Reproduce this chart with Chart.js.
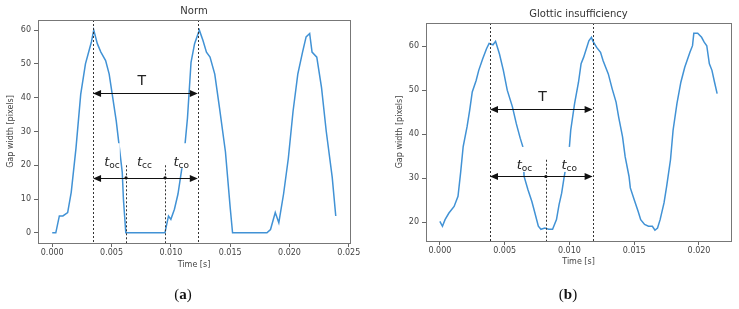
<!DOCTYPE html>
<html>
<head>
<meta charset="utf-8">
<script src="https://cdn.jsdelivr.net/npm/chart.js@4.4.1/dist/chart.umd.min.js"></script>
<style>
body{margin:0;background:#fff;width:739px;height:309px;position:relative;overflow:hidden}
canvas{position:absolute;top:0}
#ca{left:0}
#cb{left:370px}
.cap{position:absolute;top:286px;line-height:17px;font:15px "Liberation Serif","DejaVu Serif",serif;color:#111;transform:translateX(-50%)}
</style>
</head>
<body>
<canvas id="ca" width="370" height="309"></canvas>
<canvas id="cb" width="369" height="309"></canvas>
<div class="cap" style="left:183px">(<b>a</b>)</div>
<div class="cap" style="left:568px">(<b>b</b>)</div>
<script>
// (a) Norm
const timeA = [0,0.0003,0.0006,0.0009,0.0013,0.0016,0.0020,0.0024,0.0028,0.0033,0.0035,0.0038,0.0041,0.0045,0.0048,0.0051,0.0054,0.0056,0.0059,0.0060,0.0062,
  0.0095,0.0098,0.0100,0.0103,0.0106,0.0109,0.0112,0.0114,0.0117,0.0120,0.0124,0.0127,0.0130,0.0133,0.0137,0.0141,0.0146,0.0150,0.0152,
  0.0181,0.0184,0.0188,0.0191,0.0195,0.0199,0.0203,0.0207,0.0211,0.0214,0.0217,0.0219,0.0223,0.0227,0.0231,0.0236,0.0239];
const gapA = [0,0,5,5,6,12,25,41,50,56.5,60,56,53.5,51,47,40,33,27,18,10,0,
  0,5,4,7,11.5,18.5,26.5,34,50.5,56,60,57,53.5,52,47,37,24,7.5,0,
  0,1,6,3,11.5,22,36,47,53.5,58,59,53.5,52,43,30,16.5,5];
const xTicksA = [0,0.005,0.010,0.015,0.020,0.025];
const yTicksA = [0,10,20,30,40,50,60];

// (b) Glottic insufficiency
const timeB = [0,0.0002,0.0004,0.0007,0.0011,0.0014,0.0016,0.0018,0.0021,0.0023,0.0025,0.0028,0.0030,0.0033,0.0036,0.0038,0.0041,0.0043,0.0046,0.0049,
  0.0052,0.0056,0.0059,0.0062,0.0064,0.0065,0.0068,0.0071,0.0073,0.0076,0.0078,0.0081,0.0084,0.0087,0.0090,0.0092,0.0094,0.0096,0.0100,0.0101,
  0.0104,0.0107,0.0109,0.0111,0.0115,0.0117,0.0118,0.0121,0.0124,0.0126,0.0130,0.0133,0.0136,0.0138,0.0141,0.0143,0.0146,0.0147,0.0150,0.0153,
  0.0155,0.0158,0.0161,0.0164,0.0166,0.0168,0.0170,0.0173,0.0175,0.0178,0.0180,0.0183,0.0186,0.0189,0.0193,0.0195,0.0196,0.0199,0.0202,0.0204,
  0.0206,0.0208,0.0210,0.0212,0.0214];
const gapB = [20.2,19.1,20.6,22.1,23.6,25.9,31.2,37.2,41.7,45.4,49.6,52.2,54.5,57.1,59.4,60.6,60.3,61.1,58.2,54.5,
  50,46.2,42.4,39.1,37.2,30.4,27.4,24.7,22.5,19.1,18.4,18.7,18.4,18.4,20.6,24,26.6,30.4,37.2,40.9,
  47,51.8,56,57.5,61.2,62,61.2,59.7,58.6,56.7,53.7,50.3,47.3,43.9,39.4,34.9,30.4,27.8,25.1,22.5,
  20.6,19.5,19.1,19.1,18.2,18.7,20.6,24.4,28.1,34.2,40.9,47,51.8,55.2,58.6,60.1,62.9,62.9,62,60.9,
  60.1,56,54.5,51.8,49.2];
const xTicksB = [0,0.005,0.010,0.015,0.020];
const yTicksB = [20,30,40,50,60];

// markers: [time, from, to] (null = full height), arrows [t0, t1, level], labels [main, sub, t, level]
const guidesA = [[0.00344,null,null],[0.00622,null,20],[0.00951,null,20],[0.01227,null,null]];
const arrowsA = [[0.00344,0.01227,41.4],[0.00344,0.01227,16.3]];
const dotsA = [[0.00622,16.3],[0.00951,16.3]];
const labelsA = [['T','',0.00754,44.8],['t','oc',0.00504,20.9],['t','cc',0.00777,20.9],['t','co',0.01087,20.9]];

const guidesB = [[0.00387,null,null],[0.00818,null,34.2],[0.01179,null,null]];
const arrowsB = [[0.00387,0.01179,45.8],[0.00387,0.01179,30.4]];
const dotsB = [[0.00818,30.4]];
const labelsB = [['T','',0.00792,48.4],['t','oc',0.00653,32.8],['t','co',0.00998,32.8]];

const FONT = "'DejaVu Sans', sans-serif";
const TXT = '#444';

function overlay(o){
  return {
    id:'overlay',
    afterDatasetsDraw(chart){
      const {ctx, chartArea:a, scales:{x, y}} = chart;
      ctx.save();
      // measure labels, white boxes first (they hide the trace)
      const lab = o.labels.map(([m,s,t,v])=>{
        ctx.font = m==='T' ? '14px '+FONT : 'italic 13px '+FONT;
        const wm = ctx.measureText(m).width;
        ctx.font = '9px '+FONT;
        const ws = s ? ctx.measureText(s).width : 0;
        return {m,s,wm,ws,cx:x.getPixelForValue(t),cy:y.getPixelForValue(v)};
      });
      ctx.fillStyle='#fff';
      lab.forEach(l=>{
        if(!l.s) return;
        const w = l.wm+l.ws;
        ctx.fillRect(l.cx-w/2, l.cy-19, w, 25);
      });
      // dotted guides
      ctx.strokeStyle='#333'; ctx.lineWidth=1; ctx.setLineDash([2,2]);
      o.guides.forEach(([t,v0,v1])=>{
        const px = Math.round(x.getPixelForValue(t))+0.5;
        const top = v1==null ? a.top : y.getPixelForValue(v1);
        const bot = v0==null ? a.bottom : y.getPixelForValue(v0);
        ctx.beginPath(); ctx.moveTo(px,top); ctx.lineTo(px,bot); ctx.stroke();
      });
      ctx.setLineDash([]);
      // double arrows
      ctx.strokeStyle='#111'; ctx.fillStyle='#111';
      const head = (px,py,dir)=>{
        ctx.beginPath(); ctx.moveTo(px,py); ctx.lineTo(px+dir*8,py-3.5); ctx.lineTo(px+dir*8,py+3.5); ctx.closePath(); ctx.fill();
      };
      o.arrows.forEach(([t0,t1,v])=>{
        const x0=x.getPixelForValue(t0), x1=x.getPixelForValue(t1), py=Math.round(y.getPixelForValue(v))+0.5;
        ctx.beginPath(); ctx.moveTo(x0+4,py); ctx.lineTo(x1-4,py); ctx.stroke();
        head(x0,py,1); head(x1,py,-1);
      });
      o.dots.forEach(([t,v])=>{
        ctx.beginPath(); ctx.arc(x.getPixelForValue(t), y.getPixelForValue(v), 1.6, 0, Math.PI*2); ctx.fill();
      });
      // label text
      ctx.fillStyle='#222'; ctx.textBaseline='middle'; ctx.textAlign='left';
      lab.forEach(l=>{
        const x0 = l.cx-(l.wm+l.ws)/2;
        ctx.font = l.m==='T' ? '14px '+FONT : 'italic 13px '+FONT;
        ctx.fillText(l.m, x0, l.cy);
        if(l.s){ ctx.font='9px '+FONT; ctx.fillText(l.s, x0+l.wm, l.cy+3); }
      });
      ctx.restore();
    },
    afterDraw(chart){
      const {ctx, chartArea:a} = chart;
      ctx.save();
      ctx.strokeStyle='#777'; ctx.lineWidth=1;
      ctx.strokeRect(Math.round(a.left)+0.5, Math.round(a.top)+0.5, Math.round(a.right-a.left), Math.round(a.bottom-a.top));
      ctx.fillStyle='#333'; ctx.font='10px '+FONT; ctx.textAlign='center'; ctx.textBaseline='middle';
      ctx.fillText(o.title, (a.left+a.right)/2, a.top-o.titleGap);
      ctx.restore();
    }
  };
}

function makeChart(id, times, gaps, o){
  const pts = times.map((t,i)=>({x:t, y:gaps[i]}));
  const tickFont = {family:FONT, size:8};
  return new Chart(document.getElementById(id), {
    type:'line',
    data:{datasets:[{data:pts, borderColor:'#4192d5', borderWidth:1.5, pointRadius:0, tension:0, fill:false}]},
    options:{
      responsive:false, animation:false, devicePixelRatio:1,
      layout:{padding:{top:o.top, right:o.right, left:0, bottom:0}},
      plugins:{legend:{display:false}, tooltip:{enabled:false}},
      scales:{
        x:{type:'linear', min:o.xr[0], max:o.xr[1],
          afterBuildTicks:s=>{ s.ticks = o.xTicks.map(v=>({value:v})); },
          afterFit:s=>{ s.height = o.xh; },
          ticks:{callback:v=>v.toFixed(3), font:tickFont, color:TXT, maxRotation:0, autoSkip:false, padding:1},
          grid:{drawOnChartArea:false, drawTicks:true, tickLength:4, color:'#666'},
          border:{display:false},
          title:{display:true, text:'Time [s]', font:tickFont, color:TXT, padding:{top:2, bottom:o.xtPad}}},
        y:{type:'linear', min:o.yr[0], max:o.yr[1],
          afterBuildTicks:s=>{ s.ticks = o.yTicks.map(v=>({value:v})); },
          afterFit:s=>{ s.width = o.yw; },
          ticks:{font:tickFont, color:TXT, padding:3},
          grid:{drawOnChartArea:false, drawTicks:true, tickLength:4, color:'#666'},
          border:{display:false},
          title:{display:true, text:'Gap width [pixels]', font:tickFont, color:TXT, padding:{top:o.ytPad, bottom:2}}}
      }
    },
    plugins:[overlay(o)]
  });
}

makeChart('ca', timeA, gapA, {
  title:'Norm', titleGap:9, top:20, right:20, yw:38, xh:66, xtPad:39, ytPad:6,
  xr:[-0.0012,0.0251], yr:[-3,63], xTicks:xTicksA, yTicks:yTicksA,
  guides:guidesA, arrows:arrowsA, dots:dotsA, labels:labelsA
});
makeChart('cb', timeB, gapB, {
  title:'Glottic insufficiency', titleGap:8.7, top:23, right:8, yw:56, xh:68, xtPad:42, ytPad:25,
  xr:[-0.00107,0.02247], yr:[15.75,65.25], xTicks:xTicksB, yTicks:yTicksB,
  guides:guidesB, arrows:arrowsB, dots:dotsB, labels:labelsB
});
</script>
</body>
</html>
